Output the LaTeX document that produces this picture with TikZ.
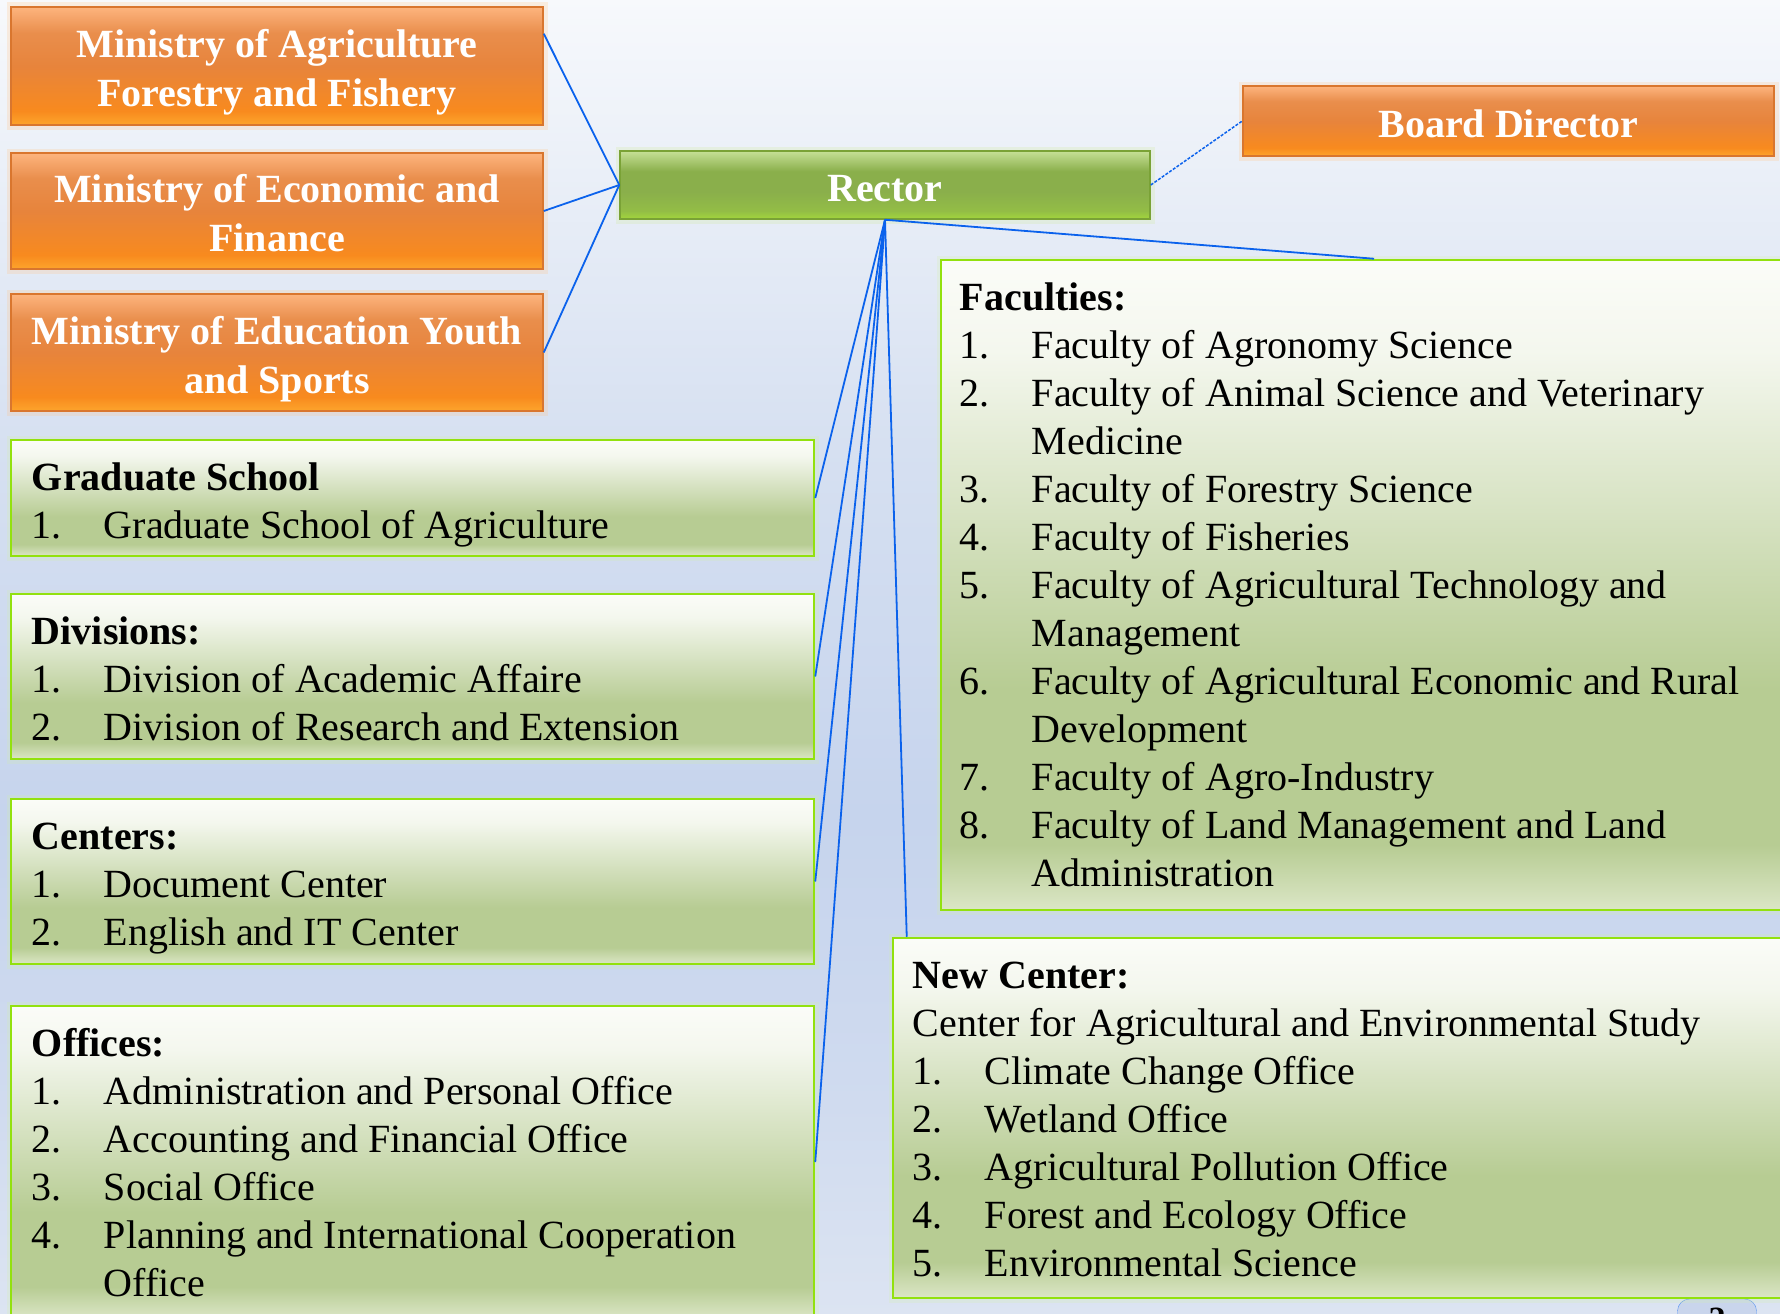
\documentclass[tikz,border=0pt]{standalone}
\usepackage{fontspec}
\setmainfont{Liberation Serif}
\usetikzlibrary{calc}
\definecolor{bgB}{HTML}{DCE4F2}
\definecolor{bgC}{HTML}{D0DBEF}
\definecolor{bgD}{HTML}{C6D4ED}
\definecolor{bgE}{HTML}{D6E0F1}
\definecolor{bgT}{HTML}{F7F9FC}
\definecolor{oB}{HTML}{FDA52C}
\definecolor{oB2}{HTML}{F88A1E}
\definecolor{oM}{HTML}{E7843C}
\definecolor{oM2}{HTML}{E98E4C}
\definecolor{oT}{HTML}{FDB47E}
\definecolor{oEdge}{HTML}{D9762E}
\definecolor{rB}{HTML}{A3D63C}
\definecolor{rB2}{HTML}{93BD46}
\definecolor{rM}{HTML}{8AAF4B}
\definecolor{rT}{HTML}{C6E096}
\definecolor{rEdge}{HTML}{7AA236}
\definecolor{gB}{HTML}{DBE6C6}
\definecolor{gM}{HTML}{B7CC93}
\definecolor{gT2}{HTML}{F4F7EE}
\definecolor{gT}{HTML}{FBFCF8}
\definecolor{gEdge}{HTML}{92E10E}
\definecolor{lineblue}{HTML}{0B62EC}
\definecolor{pgfill}{HTML}{C9D5EC}
\pgfdeclareverticalshading{bgshade}{100bp}{color(0bp)=(bgB); color(25bp)=(bgB); color(33bp)=(bgC); color(44bp)=(bgD); color(58bp)=(bgE); color(75bp)=(bgT); color(100bp)=(bgT)}
\pgfdeclareverticalshading{orangeshade}{100bp}{color(0bp)=(oB); color(25bp)=(oB); color(31bp)=(oB2); color(50bp)=(oM); color(64bp)=(oM2); color(75bp)=(oT); color(100bp)=(oT)}
\pgfdeclareverticalshading{rectorshade}{100bp}{color(0bp)=(rB); color(25bp)=(rB); color(31bp)=(rB2); color(45bp)=(rM); color(60bp)=(rM); color(75bp)=(rT); color(100bp)=(rT)}
\pgfdeclareverticalshading{greenshade}{100bp}{color(0bp)=(gB); color(25bp)=(gB); color(30bp)=(gM); color(42bp)=(gM); color(68bp)=(gT2); color(75bp)=(gT); color(100bp)=(gT)}
\newcommand{\itemline}[2]{\strut\makebox[72pt][l]{#1.}#2}
\newcommand{\itemcont}[1]{\strut\hspace*{72pt}#1}
\newcommand{\tallfirst}{\rule{0pt}{47.6pt}}
\newcommand{\oneline}{\rule{0pt}{33pt}}
\begin{document}
\begin{tikzpicture}[x=1pt,y=-1pt,
  obox/.style={shade, shading=orangeshade, draw=oEdge, line width=1.5pt, inner sep=0pt, align=center,
    text=white, font=\fontsize{40}{49}\selectfont\bfseries,
    preaction={draw=orange!45, line width=9pt, opacity=0.25}},
  rbox/.style={shade, shading=rectorshade, draw=rEdge, line width=1.5pt, inner sep=0pt, align=center,
    text=white, font=\fontsize{40}{49}\selectfont\bfseries,
    preaction={draw=rB!50, line width=9pt, opacity=0.25}},
  gbox/.style={shade, shading=greenshade, draw=gEdge, line width=2.5pt, inner sep=0pt,
    preaction={draw=gEdge!40, line width=9pt, opacity=0.2}},
  txt/.style={anchor=north west, inner sep=0pt, align=left, font=\fontsize{40}{48}\selectfont},
  conn/.style={draw=lineblue, line width=1.8pt},
  dconn/.style={draw=lineblue, line width=1.5pt, dash pattern=on 3pt off 1.5pt}
]
\useasboundingbox (0,0) rectangle (1780,1314);
\clip (0,0) rectangle (1780,1314);
\shade[shading=bgshade] (-2,-2) rectangle (1782,1316);

% page number (partly visible)
\node[draw=lineblue!70, fill=pgfill, rounded corners=12pt, minimum width=79pt, minimum height=70pt,
  inner sep=0pt, font=\fontsize{34}{40}\selectfont\bfseries, text depth=30pt] (pg) at (1717,1334) {2};

% top boxes
\node[obox, minimum width=532pt, minimum height=118pt] (m1) at (277,66)
  {\tallfirst Ministry of Agriculture\\\strut Forestry and Fishery};
\node[obox, minimum width=532pt, minimum height=116pt] (m2) at (277,211)
  {\tallfirst Ministry of Economic and\\\strut Finance};
\node[obox, minimum width=532pt, minimum height=117pt] (m3) at (277,352.5)
  {\tallfirst Ministry of Education Youth\\\strut and Sports};
\node[rbox, minimum width=530pt, minimum height=68pt] (r) at (885,185) {\oneline Rector};
\node[obox, minimum width=531pt, minimum height=70pt] (bd) at (1508.5,121) {\oneline Board Director};

% list boxes
\node[gbox, minimum width=803pt, minimum height=116pt] (g) at (412.5,498) {};
\node[gbox, minimum width=803pt, minimum height=165pt] (d) at (412.5,676.5) {};
\node[gbox, minimum width=803pt, minimum height=165pt] (c) at (412.5,881.5) {};
\node[gbox, minimum width=803pt, minimum height=312pt] (o) at (412.5,1162) {};
\node[gbox, minimum width=866pt, minimum height=650pt] (f) at (1374,585) {};
\node[gbox, minimum width=914pt, minimum height=360pt] (n) at (1350,1118) {};

\node[txt] (gt) at ($(g.north west)+(22,18)$) {\strut\textbf{Graduate School}\\
  \itemline{1}{Graduate School of Agriculture}};
\node[txt] (dt) at ($(d.north west)+(22,18)$) {\strut\textbf{Divisions:}\\
  \itemline{1}{Division of Academic Affaire}\\
  \itemline{2}{Division of Research and Extension}};
\node[txt] (ct) at ($(c.north west)+(22,18)$) {\strut\textbf{Centers:}\\
  \itemline{1}{Document Center}\\
  \itemline{2}{English and IT Center}};
\node[txt] (ot) at ($(o.north west)+(22,18)$) {\strut\textbf{Offices:}\\
  \itemline{1}{Administration and Personal Office}\\
  \itemline{2}{Accounting and Financial Office}\\
  \itemline{3}{Social Office}\\
  \itemline{4}{Planning and International Cooperation}\\
  \itemcont{Office}};
\node[txt] (ft) at ($(f.north west)+(20,18)$) {\strut\textbf{Faculties:}\\
  \itemline{1}{Faculty of Agronomy Science}\\
  \itemline{2}{Faculty of Animal Science and Veterinary}\\
  \itemcont{Medicine}\\
  \itemline{3}{Faculty of Forestry Science}\\
  \itemline{4}{Faculty of Fisheries}\\
  \itemline{5}{Faculty of Agricultural Technology and}\\
  \itemcont{Management}\\
  \itemline{6}{Faculty of Agricultural Economic and Rural}\\
  \itemcont{Development}\\
  \itemline{7}{Faculty of Agro-Industry}\\
  \itemline{8}{Faculty of Land Management and Land}\\
  \itemcont{Administration}};
\node[txt] (nt) at ($(n.north west)+(21,18)$) {\strut\textbf{New Center:}\\
  \strut Center for Agricultural and Environmental Study\\
  \itemline{1}{Climate Change Office}\\
  \itemline{2}{Wetland Office}\\
  \itemline{3}{Agricultural Pollution Office}\\
  \itemline{4}{Forest and Ecology Office}\\
  \itemline{5}{Environmental Science}};

% connectors
\draw[conn] ($(m1.north east)!0.23!(m1.south east)$) -- (r.west);
\draw[conn] (m2.east) -- (r.west);
\draw[conn] (m3.east) -- (r.west);
\draw[dconn] (r.east) -- (bd.west);
\draw[conn] (r.south) -- (f.north);
\draw[conn] (r.south) -- (g.east);
\draw[conn] (r.south) -- (d.east);
\draw[conn] (r.south) -- (c.east);
\draw[conn] (r.south) -- (o.east);
\draw[conn] (r.south) -- ($(n.north west)+(15,0)$);
\end{tikzpicture}
\end{document}
